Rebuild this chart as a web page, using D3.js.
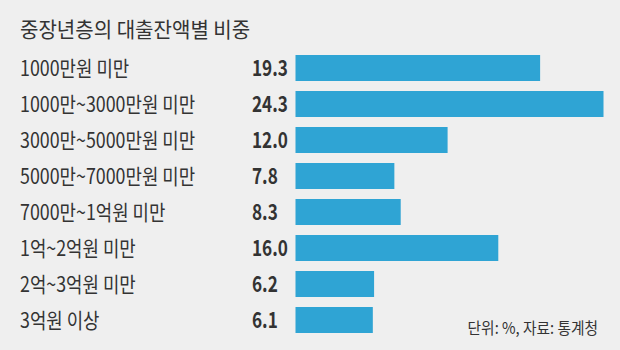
<!DOCTYPE html>
<html>
<head>
<meta charset="utf-8">
<script src="https://cdn.jsdelivr.net/npm/d3@7"></script>
<style>
  html, body { margin: 0; padding: 0; background: #efefef; }
  svg { display: block; }
  text { font-family: "Noto Sans CJK KR", "Noto Sans", sans-serif; fill: #333; }
</style>
</head>
<body>
<svg id="chart" width="620" height="350"></svg>
<script>
// 중장년층의 대출잔액별 비중 (단위: %)
const categories = [
  "1000만원 미만",
  "1000만~3000만원 미만",
  "3000만~5000만원 미만",
  "5000만~7000만원 미만",
  "7000만~1억원 미만",
  "1억~2억원 미만",
  "2억~3억원 미만",
  "3억원 이상"
];
const values = [19.3, 24.3, 12.0, 7.8, 8.3, 16.0, 6.2, 6.1];
const valueLabels = ["19.3", "24.3", "12.0", "7.8", "8.3", "16.0", "6.2", "6.1"];
const title = "중장년층의 대출잔액별 비중";
const source = "단위: %, 자료: 통계청";

const W = 620, H = 350;
const svg = d3.select("#chart");
svg.append("rect").attr("width", W).attr("height", H).attr("fill", "#efefef");

const x = d3.scaleLinear().domain([0, 24.3]).range([295.5, 603.5]);
const y = d3.scaleBand().domain(categories).range([50, 338]).paddingInner(10 / 36).paddingOuter(5 / 36);

// title
svg.append("text")
  .attr("transform", "translate(20,37) scale(0.955,1)")
  .attr("font-size", 21)
  .text(title);

const rows = svg.selectAll("g.row")
  .data(categories.map((c, i) => ({ c, v: values[i], label: valueLabels[i] })))
  .join("g")
  .attr("class", "row");

rows.append("rect")
  .attr("x", x(0))
  .attr("y", d => y(d.c))
  .attr("width", d => x(d.v) - x(0))
  .attr("height", y.bandwidth())
  .attr("fill", "#2fa4d4");

rows.append("text")
  .attr("transform", d => `translate(20,${y(d.c) + y.bandwidth() / 2 + 8}) scale(0.85,1)`)
  .attr("font-size", 21)
  .text(d => d.c);

rows.append("text")
  .attr("transform", d => `translate(252,${y(d.c) + y.bandwidth() / 2 + 8}) scale(0.78,1)`)
  .attr("font-size", 22)
  .attr("font-weight", 700)
  .text(d => d.label);

svg.append("text")
  .attr("transform", "translate(598,334) scale(0.92,1)")
  .attr("text-anchor", "end")
  .attr("font-size", 16)
  .text(source);
</script>
</body>
</html>
